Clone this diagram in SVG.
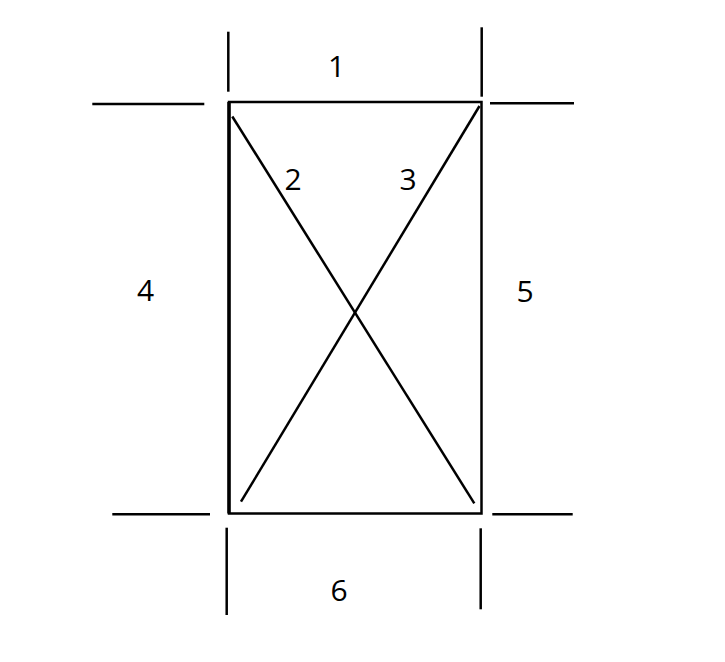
<svg xmlns="http://www.w3.org/2000/svg" width="725" height="662" viewBox="0 0 725 662">
<style>
.ln{stroke:#000;stroke-width:2.5;fill:none;stroke-linecap:butt}
.lbl{font-family:"Open Sans","Noto Sans",sans-serif;fill:#000;text-anchor:middle;font-size:30px}
</style>
<rect width="725" height="662" fill="#fff"/>
<g id="frame">
<rect x="229" y="102" width="252.5" height="411.5" class="ln"/>
<line x1="229" y1="102" x2="229" y2="513.5" stroke="#000" stroke-width="3.5"/>
</g>
<g id="connectors">
<line class="ln" x1="232.3" y1="116.5" x2="474.3" y2="503.3"/>
<line class="ln" x1="479.5" y1="106" x2="241" y2="501.7"/>
<line class="ln" x1="228.3" y1="31.7" x2="228.3" y2="91.7"/>
<line class="ln" x1="92.3" y1="104" x2="204.3" y2="104"/>
<line class="ln" x1="481.7" y1="27.3" x2="481.7" y2="96.7"/>
<line class="ln" x1="490" y1="103.3" x2="574" y2="103.3"/>
<line class="ln" x1="112.3" y1="514.3" x2="210" y2="514.3"/>
<line class="ln" x1="492.3" y1="514.3" x2="572.7" y2="514.3"/>
<line class="ln" x1="226.7" y1="527.7" x2="226.7" y2="615"/>
<line class="ln" x1="480.7" y1="528.3" x2="480.7" y2="609.3"/>
</g>
<g id="label-1"><text class="lbl" x="336.7" y="76.5">1</text></g>
<g id="label-2"><text class="lbl" x="293" y="189.5">2</text></g>
<g id="label-3"><text class="lbl" x="408" y="189.5">3</text></g>
<g id="label-4"><text class="lbl" x="145.5" y="301">4</text></g>
<g id="label-5"><text class="lbl" x="525" y="302">5</text></g>
<g id="label-6"><text class="lbl" x="339" y="601">6</text></g>
</svg>
